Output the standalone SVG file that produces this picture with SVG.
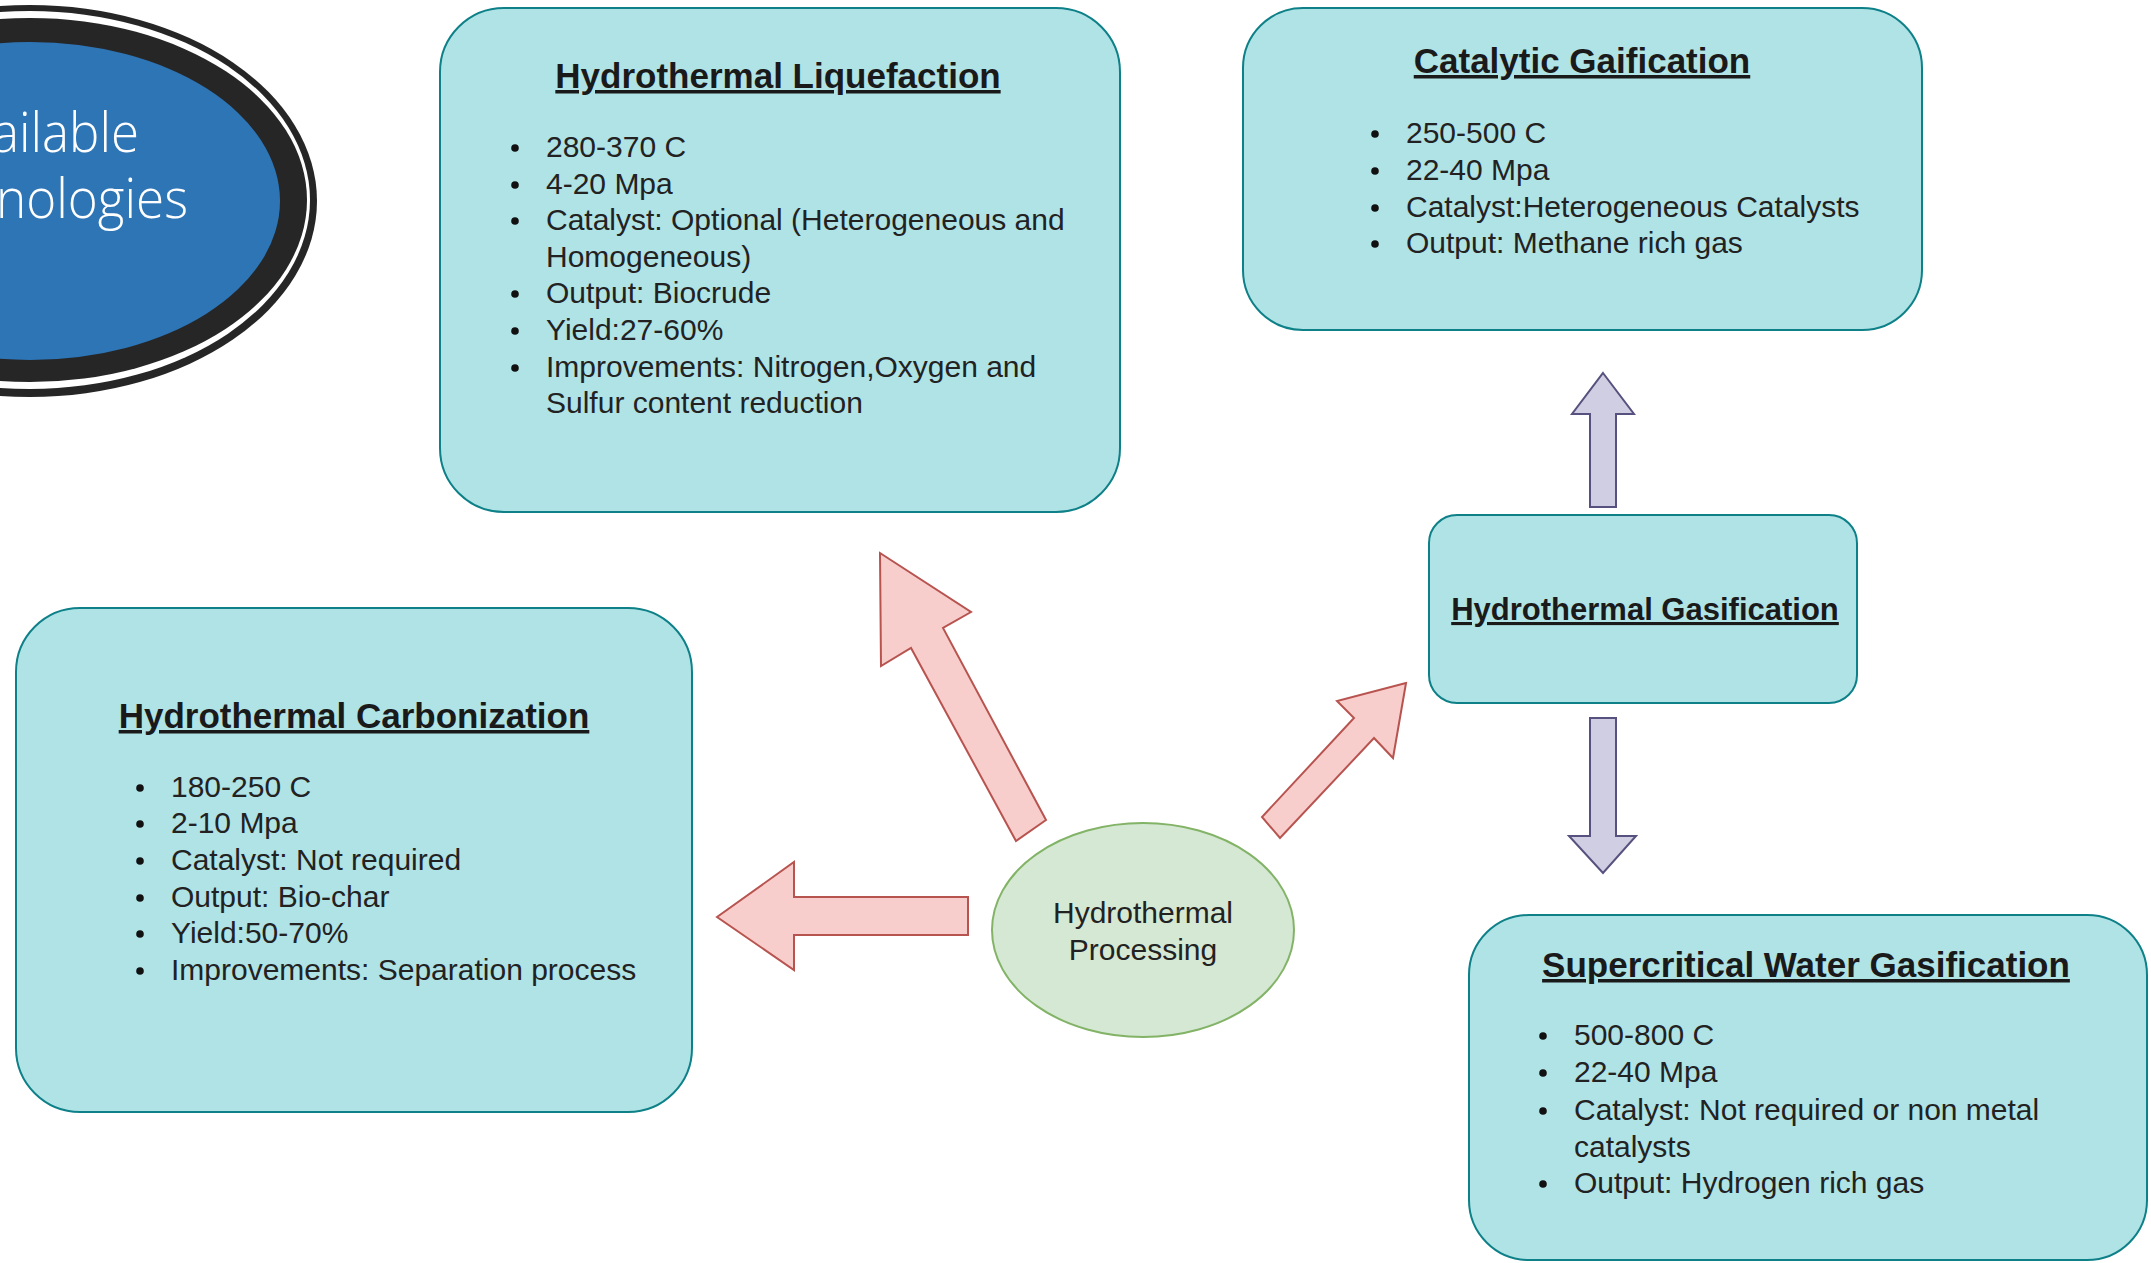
<svg xmlns="http://www.w3.org/2000/svg" width="2151" height="1263" viewBox="0 0 2151 1263">
<style>
.box{fill:#b0e3e6;stroke:#0e8088;stroke-width:2}
.title{font-family:"Liberation Sans",Arial,sans-serif;font-size:35px;font-weight:bold;fill:#1a1a1a;text-anchor:middle;text-decoration:underline}
.body{font-family:"Liberation Sans",Arial,sans-serif;font-size:30px;fill:#222}
.ctr{text-anchor:middle}
.dot{fill:#111}
.red{fill:#f8cecc;stroke:#b85450;stroke-width:2;stroke-linejoin:miter}
.purple{fill:#d0cee2;stroke:#56517e;stroke-width:2}
.big{font-family:"Open Sans","Liberation Sans",sans-serif;font-weight:300;font-size:56px;fill:#ffffff}
</style>
<rect width="2151" height="1263" fill="#ffffff"/>

<g id="title-ellipse">
  <ellipse cx="30" cy="201" rx="287" ry="196" fill="#262626"/>
  <ellipse cx="30" cy="200" rx="280" ry="189" fill="#ffffff"/>
  <ellipse cx="30" cy="200" rx="277" ry="182" fill="#262626"/>
  <ellipse cx="30" cy="201" rx="250" ry="159" fill="#2e75b6"/>
  <text class="big" x="-8" y="152" textLength="147" lengthAdjust="spacingAndGlyphs">ailable</text>
  <text class="big" x="-4" y="218" textLength="192" lengthAdjust="spacingAndGlyphs">nologies</text>
</g>

<g id="connectors">
  <polygon class="red" points="717,917 794,862 794,897 968,897 968,935 794,935 794,970"/>
  <polygon class="red" points="880,553 971,612 943,628 1046,820 1016,841 911,648 881,666"/>
  <polygon class="red" points="1406,683 1337,701 1354,718 1262,817 1280,838 1374,738 1393,758"/>
  <polygon class="purple" points="1603,373 1634,414 1616,414 1616,507 1590,507 1590,414 1572,414"/>
  <polygon class="purple" points="1590,718 1616,718 1616,836 1636,836 1603,873 1569,836 1590,836"/>
</g>

<g id="hydrothermal-liquefaction">
  <rect class="box" x="440" y="8" width="680" height="504" rx="64" ry="64"/>
  <text class="title" x="778" y="88">Hydrothermal Liquefaction</text>
  <circle class="dot" cx="515" cy="148" r="3.8"/>
  <circle class="dot" cx="515" cy="185" r="3.8"/>
  <circle class="dot" cx="515" cy="221" r="3.8"/>
  <circle class="dot" cx="515" cy="294" r="3.8"/>
  <circle class="dot" cx="515" cy="331" r="3.8"/>
  <circle class="dot" cx="515" cy="368" r="3.8"/>
  <text class="body" x="546" y="157">280-370 C</text>
  <text class="body" x="546" y="194">4-20 Mpa</text>
  <text class="body" x="546" y="230">Catalyst: Optional (Heterogeneous and</text>
  <text class="body" x="546" y="267">Homogeneous)</text>
  <text class="body" x="546" y="303">Output: Biocrude</text>
  <text class="body" x="546" y="340">Yield:27-60%</text>
  <text class="body" x="546" y="377">Improvements: Nitrogen,Oxygen and</text>
  <text class="body" x="546" y="413">Sulfur content reduction</text>
</g>

<g id="catalytic-gaification">
  <rect class="box" x="1243" y="8" width="679" height="322" rx="60" ry="60"/>
  <text class="title" x="1582" y="73">Catalytic Gaification</text>
  <circle class="dot" cx="1375" cy="134" r="3.8"/>
  <circle class="dot" cx="1375" cy="171" r="3.8"/>
  <circle class="dot" cx="1375" cy="208" r="3.8"/>
  <circle class="dot" cx="1375" cy="244" r="3.8"/>
  <text class="body" x="1406" y="143">250-500 C</text>
  <text class="body" x="1406" y="180">22-40 Mpa</text>
  <text class="body" x="1406" y="217">Catalyst:Heterogeneous Catalysts</text>
  <text class="body" x="1406" y="253">Output: Methane rich gas</text>
</g>

<g id="hydrothermal-gasification">
  <rect class="box" x="1429" y="515" width="428" height="188" rx="28" ry="28"/>
  <text class="title" x="1645" y="620" style="font-size:31px">Hydrothermal Gasification</text>
</g>

<g id="hydrothermal-carbonization">
  <rect class="box" x="16" y="608" width="676" height="504" rx="64" ry="64"/>
  <text class="title" x="354" y="728">Hydrothermal Carbonization</text>
  <circle class="dot" cx="140" cy="788" r="3.8"/>
  <circle class="dot" cx="140" cy="824" r="3.8"/>
  <circle class="dot" cx="140" cy="861" r="3.8"/>
  <circle class="dot" cx="140" cy="898" r="3.8"/>
  <circle class="dot" cx="140" cy="934" r="3.8"/>
  <circle class="dot" cx="140" cy="971" r="3.8"/>
  <text class="body" x="171" y="797">180-250 C</text>
  <text class="body" x="171" y="833">2-10 Mpa</text>
  <text class="body" x="171" y="870">Catalyst: Not required</text>
  <text class="body" x="171" y="907">Output: Bio-char</text>
  <text class="body" x="171" y="943">Yield:50-70%</text>
  <text class="body" x="171" y="980">Improvements: Separation process</text>
</g>

<g id="hydrothermal-processing">
  <ellipse cx="1143" cy="930" rx="151" ry="107" fill="#d5e8d4" stroke="#82b366" stroke-width="2"/>
  <text class="body ctr" x="1143" y="923">Hydrothermal</text>
  <text class="body ctr" x="1143" y="960">Processing</text>
</g>

<g id="supercritical-water-gasification">
  <rect class="box" x="1469" y="915" width="678" height="345" rx="60" ry="60"/>
  <text class="title" x="1806" y="977">Supercritical Water Gasification</text>
  <circle class="dot" cx="1543" cy="1036" r="3.8"/>
  <circle class="dot" cx="1543" cy="1073" r="3.8"/>
  <circle class="dot" cx="1543" cy="1111" r="3.8"/>
  <circle class="dot" cx="1543" cy="1184" r="3.8"/>
  <text class="body" x="1574" y="1045">500-800 C</text>
  <text class="body" x="1574" y="1082">22-40 Mpa</text>
  <text class="body" x="1574" y="1120">Catalyst: Not required or non metal</text>
  <text class="body" x="1574" y="1157">catalysts</text>
  <text class="body" x="1574" y="1193">Output: Hydrogen rich gas</text>
</g>
</svg>
